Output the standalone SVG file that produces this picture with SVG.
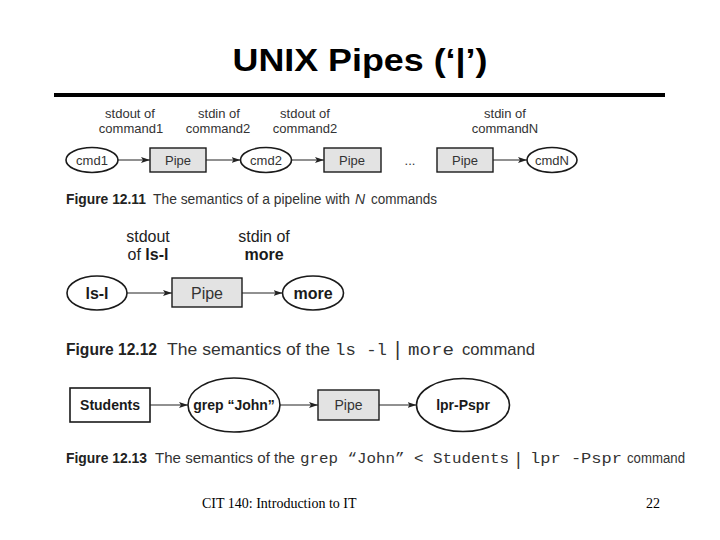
<svg xmlns="http://www.w3.org/2000/svg" width="720" height="540" viewBox="0 0 720 540">
<style>
.sans{font-family:"Liberation Sans",Arial,sans-serif}
.lbl{font-family:"Liberation Sans",Arial,sans-serif;font-size:13px;fill:#333;text-anchor:middle}
.lbl2{font-family:"Liberation Sans",Arial,sans-serif;font-size:16px;fill:#222;text-anchor:middle}
.node{fill:#fff;stroke:#1a1a1a;stroke-width:1.6}
.pipe{fill:#e3e3e3;stroke:#1a1a1a;stroke-width:1.4}
.nt{font-family:"Liberation Sans",Arial,sans-serif;fill:#333;text-anchor:middle}
.b{font-weight:bold;fill:#1a1a1a}
.cap{font-family:"Liberation Sans",Arial,sans-serif;fill:#333}
.capb{font-family:"Liberation Sans",Arial,sans-serif;font-weight:bold;fill:#222}
.mono{font-family:"Liberation Mono","Courier New",monospace;fill:#333}
.conn line{stroke:#222;stroke-width:1}
</style>
<defs>
<marker id="ah" markerWidth="9" markerHeight="6" refX="9" refY="3" orient="auto" markerUnits="userSpaceOnUse">
<path d="M0,0 L9,3 L0,6 L2,3 Z" fill="#222"/>
</marker>
</defs>
<rect width="720" height="540" fill="#fff"/>
<text x="360" y="71" text-anchor="middle" class="sans" font-size="32" font-weight="bold" textLength="255" lengthAdjust="spacingAndGlyphs">UNIX Pipes (‘|’)</text>
<rect x="54" y="93" width="611" height="4" fill="#000"/>

<!-- Figure 12.11 labels -->
<g id="labels-1211">
<text class="lbl" x="130" y="118">stdout of</text>
<text class="lbl" x="131" y="133">command1</text>
<text class="lbl" x="219" y="118">stdin of</text>
<text class="lbl" x="218" y="133">command2</text>
<text class="lbl" x="305" y="118">stdout of</text>
<text class="lbl" x="305" y="133">command2</text>
<text class="lbl" x="505" y="118">stdin of</text>
<text class="lbl" x="505" y="133">commandN</text>
</g>
<g id="cmd1"><ellipse class="node" cx="92" cy="160" rx="26" ry="12.5"/><text class="nt" x="92" y="165" font-size="13">cmd1</text></g>
<g id="pipe1"><rect class="pipe" x="150" y="148" width="56" height="24"/><text class="nt" x="178" y="165" font-size="13">Pipe</text></g>
<g id="cmd2"><ellipse class="node" cx="266" cy="160" rx="25.5" ry="12.5"/><text class="nt" x="266" y="165" font-size="13">cmd2</text></g>
<g id="pipe2"><rect class="pipe" x="324" y="148" width="57" height="24"/><text class="nt" x="352" y="165" font-size="13">Pipe</text></g>
<g id="dots"><text class="nt" x="410" y="165" font-size="13">...</text></g>
<g id="pipe3"><rect class="pipe" x="437" y="148" width="56" height="24"/><text class="nt" x="465" y="165" font-size="13">Pipe</text></g>
<g id="cmdN"><ellipse class="node" cx="552" cy="160" rx="25" ry="12.5"/><text class="nt" x="552" y="165" font-size="13">cmdN</text></g>
<g id="cap1211">
<text class="capb" x="66" y="204" font-size="14" textLength="80" lengthAdjust="spacingAndGlyphs">Figure 12.11</text>
<text class="cap" x="153" y="204" font-size="14" textLength="197" lengthAdjust="spacingAndGlyphs">The semantics of a pipeline with</text>
<text class="cap" x="355" y="204" font-size="14" font-style="italic">N</text>
<text class="cap" x="371" y="204" font-size="14" textLength="66" lengthAdjust="spacingAndGlyphs">commands</text>
</g>

<!-- Figure 12.12 -->
<g id="labels-1212">
<text class="lbl2" x="148" y="242">stdout</text>
<text class="lbl2" x="148" y="260">of <tspan class="b">ls-l</tspan></text>
<text class="lbl2" x="264" y="242">stdin of</text>
<text class="lbl2 b" x="264" y="260">more</text>
</g>
<g id="lsl"><ellipse class="node" cx="97" cy="293" rx="30" ry="17"/><text class="nt b" x="97" y="299" font-size="16">ls-l</text></g>
<g id="pipe4"><rect class="pipe" x="172" y="278" width="70" height="29"/><text class="nt" x="207" y="299" font-size="16">Pipe</text></g>
<g id="more"><ellipse class="node" cx="313" cy="293" rx="30.5" ry="17"/><text class="nt b" x="313" y="299" font-size="16">more</text></g>
<g id="cap1212">
<text class="capb" x="66" y="355" font-size="17" textLength="91" lengthAdjust="spacingAndGlyphs">Figure 12.12</text>
<text class="cap" x="167" y="355" font-size="17" textLength="163" lengthAdjust="spacingAndGlyphs">The semantics of the</text>
<text class="mono" x="335" y="355" font-size="17" textLength="52" lengthAdjust="spacingAndGlyphs">ls -l</text>
<text class="cap" x="395" y="356" font-size="20">|</text>
<text class="mono" x="408" y="355" font-size="17" textLength="46" lengthAdjust="spacingAndGlyphs">more</text>
<text class="cap" x="462" y="355" font-size="17" textLength="73" lengthAdjust="spacingAndGlyphs">command</text>
</g>

<!-- Figure 12.13 -->
<g id="students"><rect x="70" y="388" width="80" height="34" fill="#fff" stroke="#1a1a1a" stroke-width="1.6"/><text class="nt b" x="110" y="410" font-size="14">Students</text></g>
<g id="grep"><ellipse class="node" cx="234" cy="405" rx="46" ry="27"/><text class="nt b" x="234" y="410" font-size="14">grep “John”</text></g>
<g id="pipe5"><rect class="pipe" x="318" y="390" width="61" height="30"/><text class="nt" x="348.5" y="410" font-size="14">Pipe</text></g>
<g id="lpr"><ellipse class="node" cx="463" cy="405" rx="46.5" ry="26.5"/><text class="nt b" x="463" y="410" font-size="14">lpr-Pspr</text></g>
<g id="cap1213">
<text class="capb" x="66" y="463" font-size="14" textLength="81" lengthAdjust="spacingAndGlyphs">Figure 12.13</text>
<text class="cap" x="155" y="463" font-size="14" textLength="140" lengthAdjust="spacingAndGlyphs">The semantics of the</text>
<text class="mono" x="300" y="463" font-size="14" textLength="209" lengthAdjust="spacingAndGlyphs">grep “John” &lt; Students</text>
<text class="cap" x="516" y="465" font-size="18">|</text>
<text class="mono" x="530" y="463" font-size="14" textLength="92" lengthAdjust="spacingAndGlyphs">lpr -Pspr</text>
<text class="cap" x="627" y="463" font-size="14" textLength="58" lengthAdjust="spacingAndGlyphs">command</text>
</g>

<g id="connectors" class="conn">
<line x1="118" y1="160" x2="150" y2="160" marker-end="url(#ah)"/>
<line x1="206" y1="160" x2="240.5" y2="160" marker-end="url(#ah)"/>
<line x1="292" y1="160" x2="324" y2="160" marker-end="url(#ah)"/>
<line x1="493" y1="160" x2="527" y2="160" marker-end="url(#ah)"/>
<line x1="127" y1="293" x2="172" y2="293" marker-end="url(#ah)"/>
<line x1="242" y1="293" x2="282.5" y2="293" marker-end="url(#ah)"/>
<line x1="150" y1="405" x2="188" y2="405" marker-end="url(#ah)"/>
<line x1="280" y1="405" x2="318" y2="405" marker-end="url(#ah)"/>
<line x1="379" y1="405" x2="416.5" y2="405" marker-end="url(#ah)"/>
</g>

<text x="202" y="508" font-family="'Liberation Serif','Times New Roman',serif" font-size="14" fill="#000">CIT 140: Introduction to IT</text>
<text x="646" y="508" font-family="'Liberation Serif','Times New Roman',serif" font-size="14" fill="#000">22</text>
</svg>
